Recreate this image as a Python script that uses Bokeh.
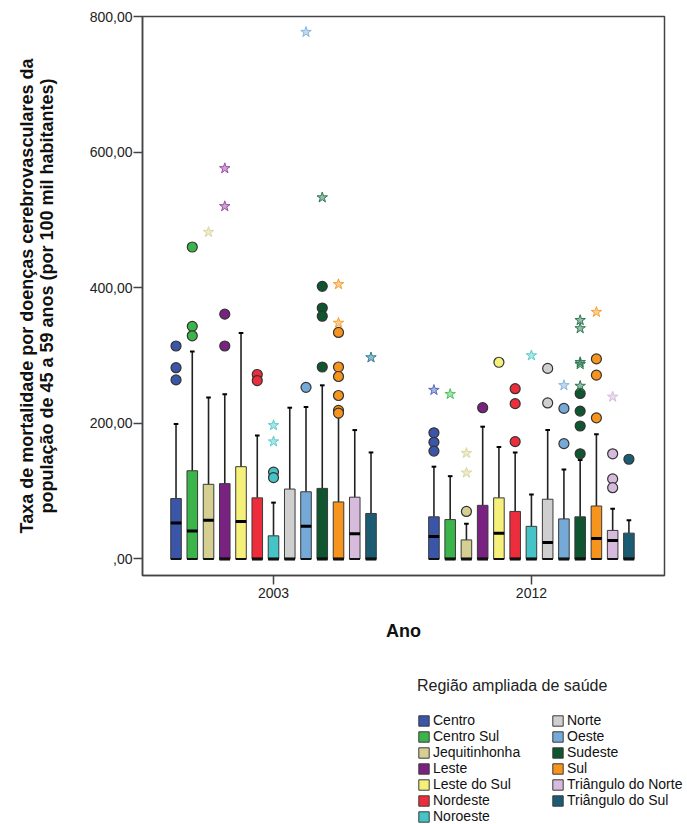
from bokeh.plotting import figure
from bokeh.layouts import column
from bokeh.models import ColumnDataSource, FixedTicker, Legend, LegendItem, Range1d
from bokeh.embed import file_html
from bokeh.resources import INLINE

# ---------------- data ----------------
years = ["2003", "2012"]
regions = ["Centro", "Centro Sul", "Jequitinhonha", "Leste", "Leste do Sul",
           "Nordeste", "Noroeste", "Norte", "Oeste", "Sudeste", "Sul",
           "Triângulo do Norte", "Triângulo do Sul"]

y_ticks = [0, 200, 400, 600, 800]
y_tick_labels = [",00", "200,00", "400,00", "600,00", "800,00"]

lower_2003 = [0, 0, 0, 0, 0, 0, 0, 0, 0, 0, 0, 0, 0]
q1_2003 = [0, 0, 0, 0, 0, 0, 0, 0, 0, 0, 0, 0, 0]
median_2003 = [53, 41, 57, 0, 55, 0, 0, 0, 48, 0, 0, 37, 0]
q3_2003 = [89, 130, 110, 111, 136, 90, 34, 103, 99, 104, 84, 91, 67]
upper_2003 = [199, 306, 238, 243, 333, 182, 83, 223, 224, 256, 209, 190, 157]
outliers_2003 = [[314, 282, 264], [460, 343, 329], [], [361, 314], [], [272, 263],
                 [128, 120], [], [253], [402, 370, 358, 283],
                 [334, 283, 269, 241, 219, 215], [], []]
extremes_2003 = [[], [], [482], [576, 520], [], [], [197, 173], [], [777], [533],
                 [405, 348], [], [297]]

lower_2012 = [0, 0, 0, 0, 0, 0, 0, 0, 0, 0, 0, 0, 0]
q1_2012 = [0, 0, 0, 0, 0, 0, 0, 0, 0, 0, 0, 0, 0]
median_2012 = [33, 0, 0, 0, 38, 0, 0, 24, 0, 0, 30, 27, 0]
q3_2012 = [62, 58, 28, 79, 90, 70, 48, 88, 59, 62, 78, 42, 38]
upper_2012 = [136, 122, 52, 195, 165, 157, 95, 190, 132, 146, 184, 74, 57]
outliers_2012 = [[186, 172, 159], [], [70], [223], [290], [251, 229, 173], [],
                 [281, 230], [222, 170], [244, 218, 196, 155], [295, 271, 208],
                 [155, 118, 105], [147]]
extremes_2012 = [[249], [243], [156, 127], [], [], [], [300], [], [256],
                 [352, 340, 290, 287, 255], [364], [239], []]

# ---------------- styles ----------------
FONT = "Liberation Sans"
palette = ["#3B55A8", "#3BB54A", "#D6CF92", "#7A2282", "#F5F07A", "#EE2D3C",
           "#46C3C6", "#CFCFCF", "#74A9D8", "#0E5530", "#F7941E", "#D7BBDD",
           "#1B5C73"]
star_palette = ["#5468C0", "#4CC35E", "#DCD6A2", "#9C4DA3", "#F2EC7A", "#EE4B55",
                "#5CCBCD", "#BDBDBD", "#86B4DE", "#2F7A52", "#F89E33", "#D9B8DF",
                "#2F7C95"]

step = 0.063
bw = 0.041
cap = 0.018
n = len(regions)

stats = [
    (lower_2003, q1_2003, median_2003, q3_2003, upper_2003, outliers_2003, extremes_2003),
    (lower_2012, q1_2012, median_2012, q3_2012, upper_2012, outliers_2012, extremes_2012),
]

box = dict(x=[], lower=[], q1=[], med=[], q3=[], upper=[], color=[], region=[],
           xl=[], xr=[], cl=[], cr=[])
circ = dict(x=[], y=[], color=[])
star = dict(x=[], y=[], color=[])
for yi, (lo, q1, md, q3, up, outs, exts) in enumerate(stats):
    for i in range(n):
        x = yi + (i - (n - 1) / 2) * step
        box["x"].append(x)
        box["lower"].append(lo[i])
        box["q1"].append(q1[i])
        box["med"].append(md[i])
        box["q3"].append(q3[i])
        box["upper"].append(up[i])
        box["color"].append(palette[i])
        box["region"].append(regions[i])
        box["xl"].append(x - bw / 2)
        box["xr"].append(x + bw / 2)
        box["cl"].append(x - cap / 2)
        box["cr"].append(x + cap / 2)
        for v in outs[i]:
            circ["x"].append(x)
            circ["y"].append(v)
            circ["color"].append(palette[i])
        for v in exts[i]:
            star["x"].append(x)
            star["y"].append(v)
            star["color"].append(star_palette[i])

bsrc = ColumnDataSource(box)
csrc = ColumnDataSource(circ)
ssrc = ColumnDataSource(star)

p = figure(width=687, height=650, output_backend="svg", toolbar_location=None,
           x_range=Range1d(-0.508, 1.516), y_range=Range1d(-24.5, 800),
           min_border_left=142, min_border_right=23, min_border_top=16,
           min_border_bottom=75)
p.frame_align = False
p.background_fill_color = "white"
p.border_fill_color = "white"
p.outline_line_color = "#444444"
p.outline_line_width = 1.5
p.xgrid.visible = False
p.ygrid.visible = False

# whiskers
p.segment(x0="x", y0="q3", x1="x", y1="upper", source=bsrc, line_color="#222222", line_width=1.6)
p.segment(x0="x", y0="lower", x1="x", y1="q1", source=bsrc, line_color="#222222", line_width=1.6)
# boxes
p.vbar(x="x", width=bw, bottom="q1", top="q3", source=bsrc,
       fill_color="color", line_color="#3A3A3A", line_width=1)
# medians
p.segment(x0="xl", y0="med", x1="xr", y1="med", source=bsrc, line_color="black", line_width=3)
# caps
p.segment(x0="cl", y0="upper", x1="cr", y1="upper", source=bsrc, line_color="black", line_width=2)
p.segment(x0="xl", y0="lower", x1="xr", y1="lower", source=bsrc, line_color="#111111", line_width=2)
# outliers
p.scatter(x="x", y="y", source=csrc, marker="circle", size=10, fill_color="color",
          line_color="#333333", line_width=1.2)
p.scatter(x="x", y="y", source=ssrc, marker="star", size=11, fill_color="color",
          fill_alpha=0.5, line_color="color", line_width=1)

# axes
p.xaxis.ticker = FixedTicker(ticks=[0, 1])
p.xaxis.major_label_overrides = {0: years[0], 1: years[1]}
p.xaxis.minor_tick_line_color = None
p.xaxis.major_tick_in = 0
p.xaxis.major_tick_out = 9
p.xaxis.major_label_standoff = 3
p.xaxis.axis_label = "Ano"
p.xaxis.axis_label_standoff = 20

p.yaxis.ticker = FixedTicker(ticks=y_ticks)
p.yaxis.major_label_overrides = {t: l for t, l in zip(y_ticks, y_tick_labels)}
p.yaxis.minor_tick_line_color = None
p.yaxis.major_tick_in = 0
p.yaxis.major_tick_out = 9
p.yaxis.major_label_standoff = 1
p.yaxis.axis_label = ("Taxa de mortalidade por doenças cerebrovasculares da\n"
                      "população de 45 a 59 anos (por 100 mil habitantes)")
p.yaxis.axis_label_standoff = 30
p.yaxis.axis_label_text_line_height = 1.0

for ax in (p.xaxis[0], p.yaxis[0]):
    ax.axis_line_color = "#444444"
    ax.axis_line_width = 1.5
    ax.major_tick_line_color = "#444444"
    ax.major_tick_line_width = 1.5
    ax.major_label_text_font = FONT
    ax.major_label_text_font_size = "14px"
    ax.major_label_text_color = "#222222"
    ax.axis_label_text_font = FONT
    ax.axis_label_text_font_size = "18px"
    ax.axis_label_text_font_style = "bold"
    ax.axis_label_text_color = "#111111"

# ---------------- legend (its own panel below the chart) ----------------
lg = figure(width=687, height=174, output_backend="svg", toolbar_location=None,
            x_axis_type=None, y_axis_type=None,
            x_range=Range1d(-0.508, 1.516), y_range=Range1d(5000, 5001),
            min_border_left=417, min_border_right=0, min_border_top=27,
            min_border_bottom=0)
lg.frame_align = False
lg.outline_line_color = None
lg.background_fill_color = "white"
lg.border_fill_color = "white"
lg.xgrid.visible = False
lg.ygrid.visible = False
swatches = lg.vbar(x="x", width=bw, bottom="q1", top="q3", source=bsrc,
                   fill_color="color", line_color="#3A3A3A", line_width=1)

items = [LegendItem(label=regions[i], renderers=[swatches], index=i) for i in range(n)]
legend = Legend(items=items, location="top_left", orientation="vertical", nrows=7,
                title="Região ampliada de saúde")
legend.title_text_font = FONT
legend.title_text_font_size = "16px"
legend.title_text_font_style = "normal"
legend.title_text_color = "#222222"
legend.title_standoff = 17
legend.label_text_font = FONT
legend.label_text_font_size = "14px"
legend.label_text_color = "#111111"
legend.glyph_width = 13
legend.glyph_height = 13
legend.label_height = 16
legend.label_width = 118
legend.label_standoff = 3
legend.spacing = 0
legend.padding = 0
legend.margin = 0
legend.border_line_alpha = 0
legend.background_fill_alpha = 0
lg.add_layout(legend)

layout = column(p, lg, spacing=0)
open("out.html", "w").write(file_html(layout, INLINE))
